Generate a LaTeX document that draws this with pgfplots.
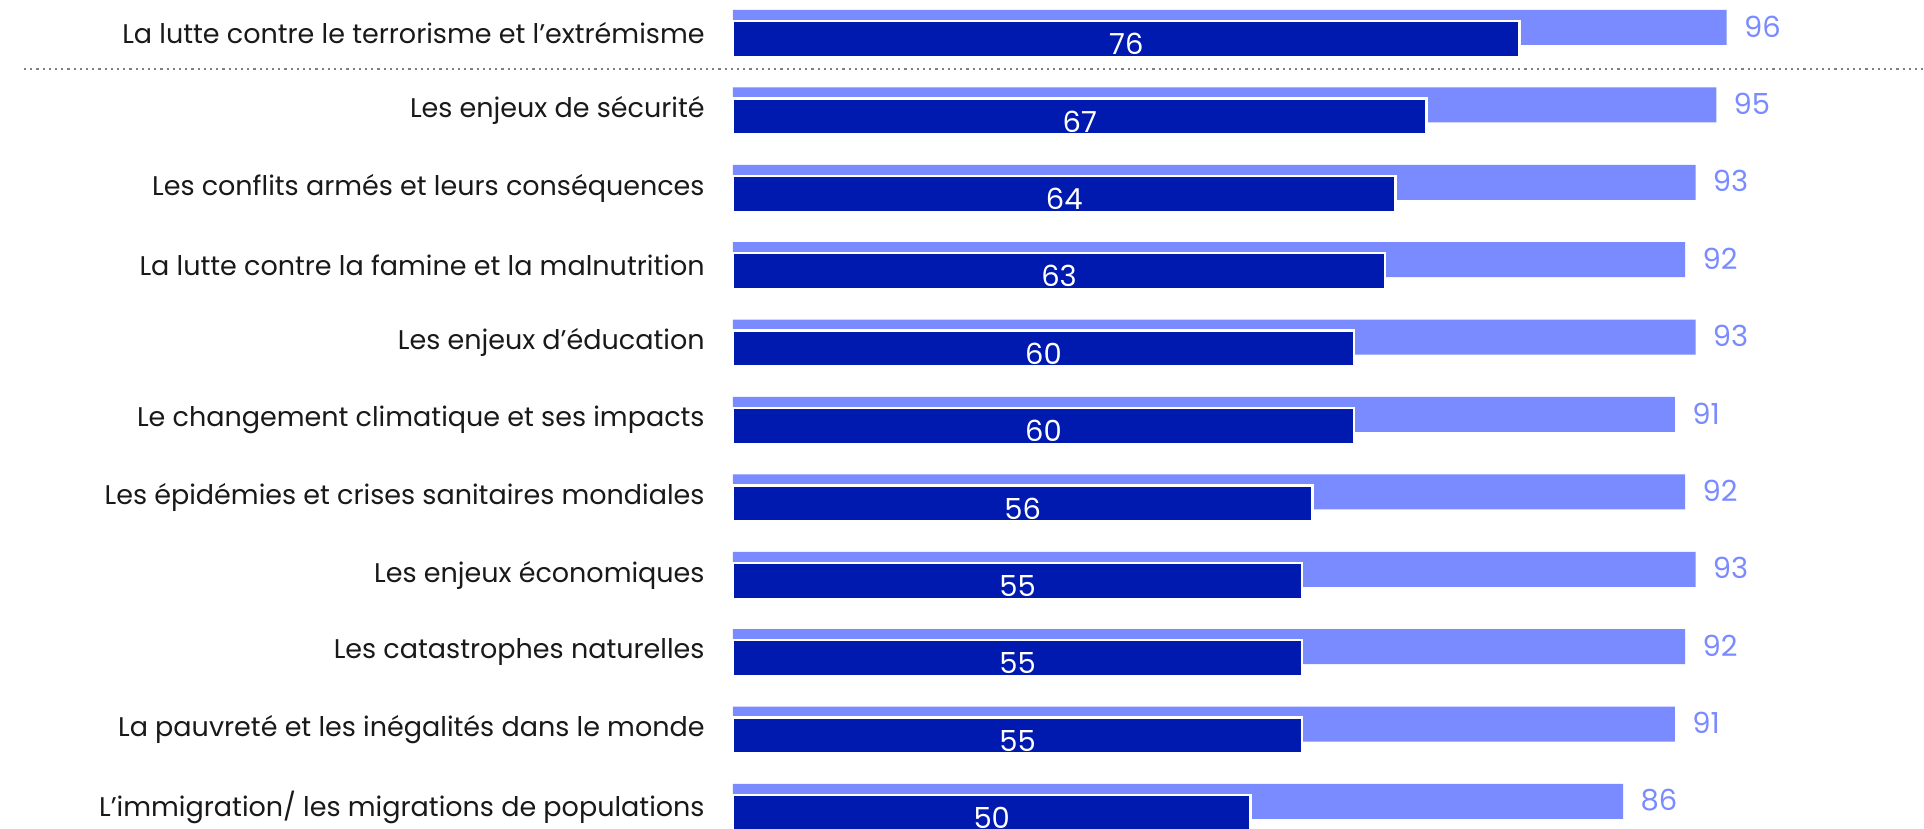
\documentclass[border=0pt]{standalone}
\usepackage{fontspec}
\setmainfont{Poppins}
\usepackage{pgfplots}
\usepackage{pgfplotstable}
\pgfplotsset{compat=1.18}
\definecolor{lightb}{RGB}{122,139,255}
\definecolor{darkb}{RGB}{0,25,174}
\definecolor{txt}{RGB}{25,25,25}
\pgfplotstableread{
y light dark
10 96 76
9 95 67
8 93 64
7 92 63
6 93 60
5 91 60
4 92 56
3 93 55
2 92 55
1 91 55
0 86 50
}\data
\begin{document}
\begin{tikzpicture}
\begin{axis}[
  anchor=south west, at={(0,0)},
  x=5.175pt, y=38.7pt,
  xmin=-70.82, xmax=115.07, ymin=-0.281, ymax=10.4296,
  axis line style={draw=none},
  major tick length=0pt,
  xtick=\empty,
  ytick={0,...,10},
  yticklabels={{L’immigration/ les migrations de populations},
    {La pauvreté et les inégalités dans le monde},
    {Les catastrophes naturelles},
    {Les enjeux économiques},
    {Les épidémies et crises sanitaires mondiales},
    {Le changement climatique et ses impacts},
    {Les enjeux d’éducation},
    {La lutte contre la famine et la malnutrition},
    {Les conflits armés et leurs conséquences},
    {Les enjeux de sécurité},
    {La lutte contre le terrorisme et l’extrémisme}},
  yticklabel style={anchor=east, inner sep=0pt, xshift=352.5pt, font=\fontsize{13.5}{15}\selectfont, text=txt},
  /pgf/number format/assume math mode=true,
  xbar,
  clip=false,
]
\addplot[xbar, bar width=17.5pt, bar shift=2.875pt, fill=lightb, draw=none,
  nodes near coords,
  every node near coord/.append style={anchor=west, xshift=8.5pt, yshift=0.5pt, text=lightb, font=\fontsize{14.5}{16}\selectfont, inner sep=0pt}]
  table[x=light, y=y] {\data};
\addplot[xbar, bar width=18pt, bar shift=-2.875pt, fill=darkb, draw=white, line width=1.2pt,
  visualization depends on={\thisrow{dark} \as \dk},
  nodes near coords,
  every node near coord/.append style={anchor=center, xshift={-\dk*2.5875pt}, yshift=-2.5pt, text=white, font=\fontsize{14.5}{16}\selectfont, inner sep=0pt}]
  table[x=dark, y=y] {\data};
\draw[gray, line width=1.1pt, dotted] (axis cs:-68.5,9.54) -- (axis cs:115.07,9.54);
\end{axis}
\pgfresetboundingbox
\useasboundingbox (0,0) rectangle (962pt,414.5pt);
\end{tikzpicture}
\end{document}
